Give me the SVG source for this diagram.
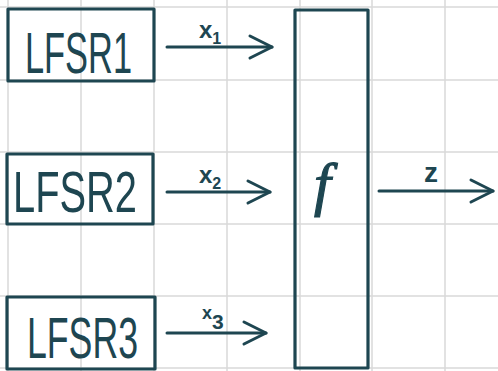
<svg xmlns="http://www.w3.org/2000/svg" width="498" height="371" viewBox="0 0 498 371">
<style>
.grid{stroke:#d9d9d9;stroke-width:1.5}
.box{fill:none;stroke:#1e4651;stroke-width:3.2;stroke-linejoin:round}
.big{font-family:"Liberation Sans",sans-serif;font-size:58px;fill:#1e4651}
.lbl{font-family:"Liberation Sans",sans-serif;font-weight:bold;fill:#1e4651}
.fn{font-family:"Liberation Serif",serif;font-style:italic;font-size:60px;fill:#1e4651;stroke:#1e4651;stroke-width:1.2}
.wire{fill:none;stroke:#1e4651;stroke-width:3;stroke-linecap:round}
</style>
<defs>
<marker id="ah" viewBox="-26 -14 30 28" refX="0" refY="0" markerWidth="30" markerHeight="28" markerUnits="userSpaceOnUse" orient="auto" overflow="visible">
<path d="M-22,-11 L0,0 L-22,11" fill="none" stroke="#1e4651" stroke-width="3" stroke-linecap="round" stroke-linejoin="round"/>
</marker>
</defs>
<rect width="498" height="371" fill="#ffffff"/>
<g id="grid">
<line class="grid" x1="8" y1="0" x2="8" y2="371"/>
<line class="grid" x1="81" y1="0" x2="81" y2="371"/>
<line class="grid" x1="154" y1="0" x2="154" y2="371"/>
<line class="grid" x1="227" y1="0" x2="227" y2="371"/>
<line class="grid" x1="300" y1="0" x2="300" y2="371"/>
<line class="grid" x1="372" y1="0" x2="372" y2="371"/>
<line class="grid" x1="445" y1="0" x2="445" y2="371"/>
<line class="grid" x1="0" y1="7" x2="498" y2="7"/>
<line class="grid" x1="0" y1="80" x2="498" y2="80"/>
<line class="grid" x1="0" y1="152" x2="498" y2="152"/>
<line class="grid" x1="0" y1="224" x2="498" y2="224"/>
<line class="grid" x1="0" y1="296" x2="498" y2="296"/>
<line class="grid" x1="0" y1="368" x2="498" y2="368"/>
</g>
<g id="lfsr1">
<rect class="box" x="8" y="9" width="146" height="72"/>
<text class="big" x="25" y="73" textLength="107" lengthAdjust="spacingAndGlyphs">LFSR1</text>
</g>
<g id="lfsr2">
<rect class="box" x="7" y="154" width="146" height="70"/>
<text class="big" x="13" y="212" textLength="124" lengthAdjust="spacingAndGlyphs">LFSR2</text>
</g>
<g id="lfsr3">
<rect class="box" x="7" y="297" width="148" height="72"/>
<text class="big" x="27" y="358" textLength="111" lengthAdjust="spacingAndGlyphs">LFSR3</text>
</g>
<g id="f">
<rect class="box" x="295" y="10" width="73" height="358"/>
<text class="fn" x="314" y="204">f</text>
</g>
<g id="connectors">
<line class="wire" x1="167" y1="47" x2="272" y2="47" marker-end="url(#ah)"/>
<text class="lbl" x="199" y="38" font-size="24">x<tspan font-size="16" dy="6">1</tspan></text>
<line class="wire" x1="167" y1="192" x2="270" y2="192" marker-end="url(#ah)"/>
<text class="lbl" x="199" y="183" font-size="24">x<tspan font-size="16" dy="6">2</tspan></text>
<line class="wire" x1="167" y1="333" x2="266" y2="333" marker-end="url(#ah)"/>
<text class="lbl" x="202" y="319" font-size="18">x<tspan font-size="21" dy="10">3</tspan></text>
<line class="wire" x1="379" y1="191" x2="493" y2="191" marker-end="url(#ah)"/>
<text class="lbl" x="424" y="182" font-size="28">z</text>
</g>
</svg>
